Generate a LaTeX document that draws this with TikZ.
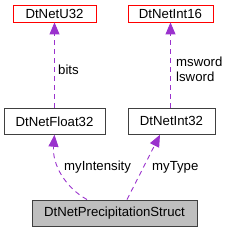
\documentclass[tikz,border=0pt]{standalone}
\usepackage{fontspec}
\setmainfont{Liberation Sans}
\usetikzlibrary{arrows.meta}
\definecolor{edgepurple}{HTML}{9A32CD}
\definecolor{boxgray}{HTML}{BFBFBF}
\definecolor{boxred}{HTML}{FF0000}
\definecolor{boxline}{HTML}{404040}
\begin{document}
\begin{tikzpicture}[x=1pt,y=-1pt,
  cls/.style={draw=boxline, line width=0.9pt, fill=white, inner sep=0pt, minimum height=26pt, font=\fontsize{13.2}{15}\selectfont},
  redcls/.style={cls, draw=boxred, minimum height=17pt},
  maincls/.style={cls, fill=boxgray},
  rel/.style={draw=edgepurple, dashed, dash pattern=on 5pt off 4pt, line width=0.9pt, -{Triangle[length=12pt,width=10pt]}},
  lbl/.style={font=\fontsize{13.2}{14.5}\selectfont, inner sep=0pt, anchor=west, align=left}]
\useasboundingbox (0,0) rectangle (228,232);
\node[redcls, minimum width=83pt] (u32) at (54.5,13.5) {DtNetU32};
\node[redcls, minimum width=85pt] (i16) at (170.5,13.5) {DtNetInt16};
\node[cls, minimum width=101pt] (f32) at (54.5,121.3) {DtNetFloat32};
\node[cls, minimum width=87pt] (i32) at (171.5,121.3) {DtNetInt32};
\node[maincls, minimum width=165pt] (prec) at (114.5,213) {DtNetPrecipitationStruct};
\draw[rel] (f32.north) -- (u32.south);
\draw[rel] (i32.north -| i16.south) -- (i16.south);
\draw[rel] (prec.north -| 87,0) .. controls (66,188) and (52,165) .. (f32.south);
\draw[rel] (prec.north -| 127,0) -- (i32.south -| 160,0);
\node[lbl] (lbits) at (58,70) {bits};
\node[lbl] (lmsw) at (176,62) {msword};
\node[lbl] (llsw) at (176,77) {lsword};
\node[lbl] (lint) at (64,167) {myIntensity};
\node[lbl] (ltype) at (152,167) {myType};
\end{tikzpicture}
\end{document}
